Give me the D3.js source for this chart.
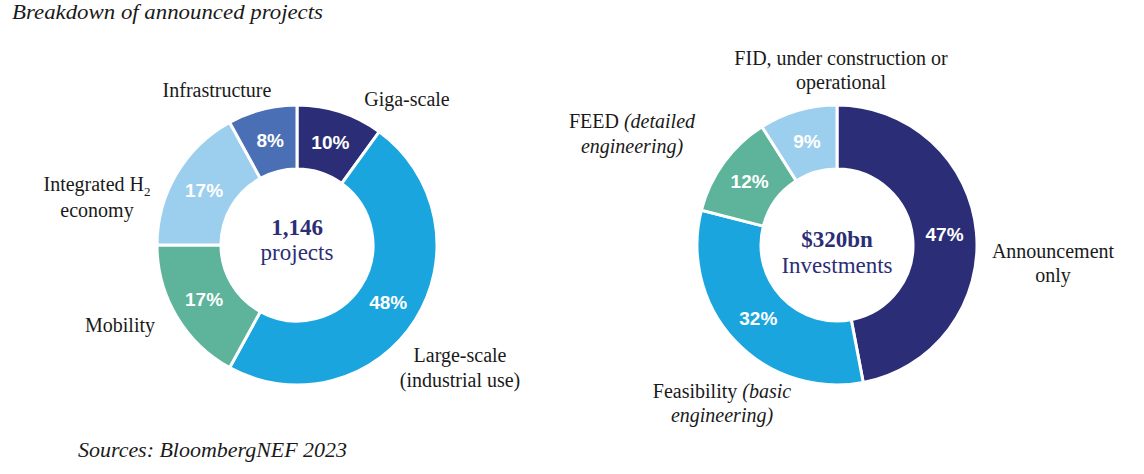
<!DOCTYPE html>
<html>
<head>
<meta charset="utf-8">
<script src="https://cdn.jsdelivr.net/npm/d3@7"></script>
<style>
  html, body { margin: 0; padding: 0; background: #fff; }
  svg { display: block; }
  .lbl { font-family: "Liberation Serif", "Times New Roman", serif; font-size: 20px; fill: #1a1a1a; }
  .pct { font-family: "Liberation Sans", Arial, sans-serif; font-weight: bold; font-size: 19px; fill: #fff; }
  .ctr { font-family: "Liberation Serif", "Times New Roman", serif; fill: #2b2e76; font-size: 23px; }
</style>
</head>
<body>
<svg id="chart" width="1144" height="474"></svg>
<script>
// ---- Data ----
const titleText = "Breakdown of announced projects";
const sourceText = "Sources: BloombergNEF 2023";

const projectCategories = ["Giga-scale", "Large-scale (industrial use)", "Mobility", "Integrated H2 economy", "Infrastructure"];
const projectShares = [10, 48, 17, 17, 8];
const projectTotal = "1,146";
const projectUnit = "projects";

const investCategories = ["Announcement only", "Feasibility (basic engineering)", "FEED (detailed engineering)", "FID, under construction or operational"];
const investShares = [47, 32, 12, 9];
const investTotal = "$320bn";
const investUnit = "Investments";

// ---- Styles ----
const projectColors = ["#2b2e76", "#1aa5de", "#5db49a", "#9ccfee", "#4a6fb5"];
const investColors = ["#2b2e76", "#1aa5de", "#5db49a", "#9ccfee"];

const svg = d3.select("#chart");
const outerR = 140, innerR = 76;

function donut(cx, cy, cats, vals, colors) {
  const g = svg.append("g").attr("transform", `translate(${cx},${cy})`);
  const pie = d3.pie().sort(null).value(d => d.v);
  const arcs = pie(cats.map((c, i) => ({ c, v: vals[i], col: colors[i] })));
  const arc = d3.arc().innerRadius(innerR).outerRadius(outerR);
  const lblArc = d3.arc().innerRadius(108).outerRadius(108);
  g.selectAll("path").data(arcs).join("path")
    .attr("d", arc)
    .attr("fill", d => d.data.col)
    .attr("stroke", "#fff").attr("stroke-width", 3);
  g.selectAll("text.pct").data(arcs).join("text")
    .attr("class", "pct")
    .attr("text-anchor", "middle")
    .attr("dominant-baseline", "central")
    .attr("transform", d => `translate(${lblArc.centroid(d)})`)
    .text(d => d3.format(".0f")(d.data.v) + "%");
  return g;
}

const gL = donut(297, 245, projectCategories, projectShares, projectColors);
const gR = donut(837, 245, investCategories, investShares, investColors);

// center texts
gL.append("text").attr("class", "ctr").attr("text-anchor", "middle").attr("y", -10)
  .attr("font-weight", "bold").text(projectTotal);
gL.append("text").attr("class", "ctr").attr("text-anchor", "middle").attr("y", 15).text(projectUnit);
gR.append("text").attr("class", "ctr").attr("text-anchor", "middle").attr("y", 2)
  .attr("font-weight", "bold").text(investTotal);
gR.append("text").attr("class", "ctr").attr("text-anchor", "middle").attr("y", 28).text(investUnit);

// category labels: each line is an array of [text, style] parts
function label(x, y, lines, lh) {
  const t = svg.append("text").attr("class", "lbl").attr("text-anchor", "middle");
  lines.forEach((parts, li) => {
    const line = t.append("tspan").attr("x", x).attr("y", y + li * lh);
    parts.forEach(p => {
      const s = line.append("tspan").text(p[0]);
      if (p[1] === "i") s.attr("font-style", "italic");
      if (p[1] === "sub") s.attr("font-size", 13).attr("dy", 5);
    });
  });
}

label(217, 97, [[["Infrastructure"]]], 25);
label(407, 106, [[["Giga-scale"]]], 25);
label(97, 191, [[["Integrated H"], ["2", "sub"]], [["economy"]]], 26);
label(120, 332, [[["Mobility"]]], 25);
label(460, 362, [[["Large-scale"]], [["(industrial use)"]]], 25);

label(841, 65, [[["FID, under construction or"]], [["operational"]]], 24);
label(632, 128, [[["FEED "], ["(detailed", "i"]], [["engineering)", "i"]]], 25);
label(1053, 258, [[["Announcement"]], [["only"]]], 24);
label(722, 398, [[["Feasibility "], ["(basic", "i"]], [["engineering)", "i"]]], 24);

// title and source
svg.append("text").attr("class", "lbl").attr("x", 12).attr("y", 19)
  .attr("font-style", "italic").attr("textLength", 311).attr("lengthAdjust", "spacingAndGlyphs")
  .text(titleText);
svg.append("text").attr("class", "lbl").attr("x", 78).attr("y", 457)
  .attr("font-size", 21)
  .attr("font-style", "italic").attr("textLength", 269).attr("lengthAdjust", "spacingAndGlyphs")
  .text(sourceText);
</script>
</body>
</html>
